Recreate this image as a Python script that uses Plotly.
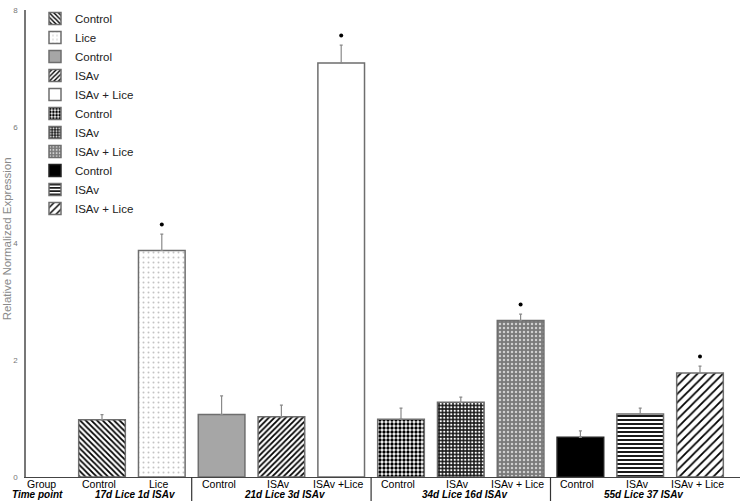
import plotly.graph_objects as go

# ---- data ----
legend_names = ["Control", "Lice", "Control", "ISAv", "ISAv + Lice",
                "Control", "ISAv", "ISAv + Lice", "Control", "ISAv", "ISAv + Lice"]
group_labels = ["Control", "Lice", "Control", "ISAv", "ISAv +Lice",
                "Control", "ISAv", "ISAv + Lice", "Control", "ISAv", "ISAv + Lice"]
time_points = ["17d Lice 1d ISAv", "21d Lice 3d ISAv", "34d Lice 16d ISAv", "55d Lice 37 ISAv"]
group_sizes = [2, 3, 3, 3]
values = [0.98, 3.88, 1.07, 1.03, 7.09, 0.99, 1.28, 2.68, 0.68, 1.08, 1.78]
errors = [0.09, 0.28, 0.32, 0.20, 0.31, 0.19, 0.09, 0.11, 0.11, 0.10, 0.12]
significant = [False, True, False, False, True, False, False, True, False, False, True]
y_ticks = [0, 2, 4, 6, 8]

# ---- styles ----
styles = [
    dict(shape="\\", fg="black", bg="white", size=4, sol=0.45),
    dict(shape=".", fg="#c4c4c4", bg="white", size=5, sol=0.12),
    dict(shape="", fg="#a6a6a6", bg="#a6a6a6", size=4, sol=0.3),
    dict(shape="/", fg="black", bg="white", size=4, sol=0.45),
    dict(shape="", fg="white", bg="white", size=4, sol=0.3),
    dict(shape=".", fg="black", bg="white", size=4, sol=0.55),
    dict(shape=".", fg="white", bg="#1a1a1a", size=3.5, sol=0.35),
    dict(shape=".", fg="#d0d0d0", bg="#7a7a7a", size=4, sol=0.3),
    dict(shape="", fg="black", bg="black", size=4, sol=0.3),
    dict(shape="-", fg="black", bg="white", size=4, sol=0.45),
    dict(shape="/", fg="black", bg="white", size=6, sol=0.3),
]

FONT = "Liberation Sans, Arial, sans-serif"
positions = list(range(len(values)))

fig = go.Figure()
for i, (nm, v, e, st) in enumerate(zip(legend_names, values, errors, styles)):
    pattern = dict(shape=st["shape"], fgcolor=st["fg"], bgcolor=st["bg"],
                   size=st["size"], solidity=st["sol"], fillmode="replace")
    fig.add_trace(go.Bar(
        x=[positions[i]], y=[v], name=nm, width=0.78,
        marker=dict(color=st["bg"], pattern=pattern,
                    line=dict(color="#6e6e6e" if st["bg"] != "black" else "#222", width=1.5)),
        error_y=dict(type="data", array=[e], arrayminus=[0], symmetric=False,
                     color="#8a8a8a", thickness=1.2, width=1.5),
        showlegend=True,
    ))

# significance markers placed above error bars
star_x = [p for p, s in zip(positions, significant) if s]
star_y = [v + e + 0.165 for v, e, s in zip(values, errors, significant) if s]
fig.add_trace(go.Scatter(x=star_x, y=star_y, mode="markers",
                         marker=dict(color="black", size=4, symbol="circle"),
                         showlegend=False, hoverinfo="skip"))

W, H = 740, 501
ml, mr, mt, mb = 26, 0, 10, 24
plot_w = W - ml - mr
plot_h = H - mt - mb
bar_px = 59.8
first_center_px = 102 - ml
x0 = -first_center_px / bar_px
x1 = x0 + plot_w / bar_px

annotations = []
# group row
for p, lab in zip(positions, group_labels):
    annotations.append(dict(x=p, y=0, xref="x", yref="paper", text=lab, showarrow=False,
                            xanchor="center", yanchor="middle", yshift=-6.5, xshift=-3,
                            font=dict(family=FONT, size=10.5, color="black")))
# time point row
start = 0
shapes = []
for k, (tp, n) in enumerate(zip(time_points, group_sizes)):
    center = (positions[start] + positions[start + n - 1]) / 2
    annotations.append(dict(x=center, y=0, xref="x", yref="paper",
                            text="<b><i>" + tp + "</i></b>", showarrow=False,
                            xanchor="center", yanchor="middle", yshift=-17, xshift=4,
                            font=dict(family=FONT, size=10, color="black")))
    if k < len(group_sizes) - 1:
        bx = positions[start + n - 1] + 0.5
        shapes.append(dict(type="line", xref="x", yref="paper", x0=bx, x1=bx,
                           y0=0, y1=-(mb / plot_h), line=dict(color="#333", width=1.2)))
    start += n

annotations.append(dict(x=(41 - ml) / plot_w, y=0, xref="paper", yref="paper", text="Group",
                        showarrow=False, xanchor="center", yanchor="middle", yshift=-6.5,
                        font=dict(family=FONT, size=10.5, color="black")))
annotations.append(dict(x=(10 - ml) / plot_w, y=0, xref="paper", yref="paper",
                        text="<b><i>Time point</i></b>", showarrow=False,
                        xanchor="left", yanchor="middle", yshift=-17,
                        font=dict(family=FONT, size=10, color="black")))
annotations.append(dict(x=(6.5 - ml) / plot_w, y=0.51, xref="paper", yref="paper",
                        text="Relative Normalized Expression", textangle=-90, showarrow=False,
                        xanchor="center", yanchor="middle",
                        font=dict(family=FONT, size=11.5, color="#8a8a8a")))

fig.update_layout(
    width=W, height=H,
    margin=dict(l=ml, r=mr, t=mt, b=mb, pad=0),
    paper_bgcolor="white", plot_bgcolor="white",
    barmode="overlay",
    font=dict(family=FONT),
    xaxis=dict(range=[x0, x1], showgrid=False, zeroline=False, showticklabels=False,
               ticks="", showline=True, linecolor="#444", linewidth=1.2),
    yaxis=dict(range=[0, 8], tickvals=y_ticks, showgrid=False, zeroline=False,
               showline=True, linecolor="#777", linewidth=1.5, ticks="",
               ticklabelstandoff=5,
               tickfont=dict(family=FONT, size=8, color="#777")),
    legend=dict(x=(35 - ml) / plot_w, y=1 + 6 / plot_h, xanchor="left", yanchor="top",
                bgcolor="rgba(0,0,0,0)", font=dict(family=FONT, size=11.5, color="#222"),
                itemwidth=30, tracegroupgap=0),
    annotations=annotations,
    shapes=shapes,
    showlegend=True,
)

fig.write_html("out.html", config={"displayModeBar": False},
               post_script="document.body.style.margin='0px';")
